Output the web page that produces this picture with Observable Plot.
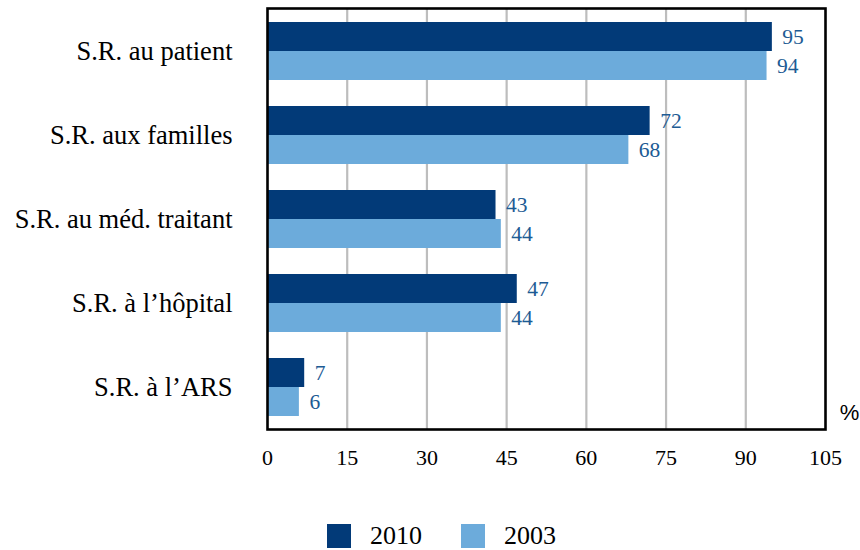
<!DOCTYPE html>
<html>
<head>
<meta charset="utf-8">
<script src="https://cdn.jsdelivr.net/npm/d3@7"></script>
<script src="https://cdn.jsdelivr.net/npm/@observablehq/plot@0.6"></script>
<style>
  html, body { margin: 0; padding: 0; background: #fff; }
  #wrap { position: relative; width: 860px; height: 550px; font-family: "Liberation Serif", "Times New Roman", serif; }
  #chart svg, #chart svg text { font-family: "Liberation Serif", "Times New Roman", serif !important; }
  #chart svg text.pct { font-family: "Liberation Sans", Arial, sans-serif !important; }
  #legend { position: absolute; left: 327px; top: 524px; display: flex; align-items: center; font-size: 26px; color: #000; }
  .sw { width: 24px; height: 24px; display: inline-block; }
  .lab { margin-left: 19px; line-height: 24px; }
</style>
</head>
<body>
<div id="wrap"><div id="chart"></div><div id="legend"></div></div>
<script>
const categories = ["S.R. au patient", "S.R. aux familles", "S.R. au méd. traitant", "S.R. à l’hôpital", "S.R. à l’ARS"];
const years = ["2010", "2003"];
const values2010 = [95, 72, 43, 47, 7];
const values2003 = [94, 68, 44, 44, 6];
const xTicks = [0, 15, 30, 45, 60, 75, 90, 105];
const gridTicks = [15, 30, 45, 60, 75, 90];
const colors = {"2010": "#023a78", "2003": "#6cabdb"};
const labelColor = "#1d5b94";
const serif = "Liberation Serif";

const d2010 = categories.map((c, i) => ({cat: c, value: values2010[i]}));
const d2003 = categories.map((c, i) => ({cat: c, value: values2003[i]}));

const marginTop = 8, marginBottom = 50, height = 479;
const plotH = height - marginTop - marginBottom;
const padInner = 0.311, padOuter = 0.156;
const step = plotH / (categories.length - padInner + 2 * padOuter);
const bw = step * (1 - padInner);

const chart = Plot.plot({
  width: 860,
  height,
  marginLeft: 267,
  marginRight: 35,
  marginTop,
  marginBottom,
  style: {fontFamily: serif, background: "#fff"},
  x: {domain: [0, 105]},
  y: {domain: categories, paddingInner: padInner, paddingOuter: padOuter},
  marks: [
    Plot.ruleX(gridTicks, {stroke: "#bdbdbd", strokeWidth: 2.2}),
    Plot.barX(d2010, {x: "value", y: "cat", fill: colors["2010"], insetBottom: bw / 2}),
    Plot.barX(d2003, {x: "value", y: "cat", fill: colors["2003"], insetTop: bw / 2}),
    Plot.text(d2010, {x: "value", y: "cat", text: d => String(d.value), dx: 10, dy: -bw / 4, textAnchor: "start", fill: labelColor, fontSize: 21.5, fontFamily: serif}),
    Plot.text(d2003, {x: "value", y: "cat", text: d => String(d.value), dx: 10, dy: bw / 4, textAnchor: "start", fill: labelColor, fontSize: 21.5, fontFamily: serif}),
    Plot.frame({stroke: "#000", strokeWidth: 2.6}),
    Plot.axisY({tickSize: 0, tickPadding: 35, fontSize: 26.5, label: null, fill: "#000", fontFamily: serif}),
    Plot.axisX({ticks: xTicks, tickSize: 0, tickPadding: 20, fontSize: 22, label: null, fill: "#000", fontFamily: serif}),
    Plot.text(["%"], {frameAnchor: "bottom-right", dx: 24, dy: -10, fontSize: 22, fontFamily: "Liberation Sans", fill: "#000", textAnchor: "middle"})
  ]
});
document.getElementById("chart").appendChild(chart);
chart.querySelectorAll("text").forEach(t => { if (t.textContent === "%") t.classList.add("pct"); });

const legend = document.getElementById("legend");
years.forEach((y, i) => {
  const item = document.createElement("div");
  item.style.display = "flex";
  item.style.alignItems = "center";
  if (i > 0) item.style.marginLeft = "39px";
  const sw = document.createElement("span");
  sw.className = "sw";
  sw.style.background = colors[y];
  const lab = document.createElement("span");
  lab.className = "lab";
  lab.textContent = y;
  item.appendChild(sw);
  item.appendChild(lab);
  legend.appendChild(item);
});
</script>
</body>
</html>
